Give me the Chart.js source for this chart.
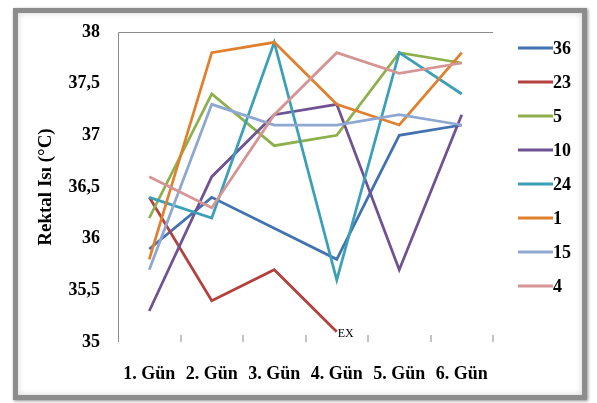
<!DOCTYPE html>
<html>
<head>
<meta charset="utf-8">
<script src="https://cdn.jsdelivr.net/npm/chart.js@4/dist/chart.umd.min.js"></script>
<style>
  html, body { margin: 0; padding: 0; background: #fff; }
  body { width: 597px; height: 403px; position: relative; overflow: hidden; }
  .frame {
    position: absolute; left: 13px; top: 8px; width: 564px; height: 382px;
    border: 5px solid #8c8c8c;
    box-shadow: 1px 1px 3px rgba(0,0,0,0.45), inset 0 0 6px rgba(0,0,0,0.18);
    background: #fff;
  }
  canvas { position: absolute; left: 0; top: 0; }
</style>
</head>
<body>
<div class="frame"></div>
<canvas id="chart" width="597" height="403"></canvas>
<script>
// Rectal temperature per animal over six days.
const days = ["1. Gün", "2. Gün", "3. Gün", "4. Gün", "5. Gün", "6. Gün"];
const animals = ["36", "23", "5", "10", "24", "1", "15", "4"];

const temp36 = [35.9, 36.4, 36.1, 35.8, 37.0, 37.1];
const temp23 = [36.4, 35.4, 35.7, 35.1, null, null]; // exitus after day 4
const temp5  = [36.2, 37.4, 36.9, 37.0, 37.8, 37.7];
const temp10 = [35.3, 36.6, 37.2, 37.3, 35.7, 37.2];
const temp24 = [36.4, 36.2, 37.9, 35.6, 37.8, 37.4];
const temp1  = [35.8, 37.8, 37.9, 37.3, 37.1, 37.8];
const temp15 = [35.7, 37.3, 37.1, 37.1, 37.2, 37.1];
const temp4  = [36.6, 36.3, 37.2, 37.8, 37.6, 37.7];

const yTicks = [35, 35.5, 36, 36.5, 37, 37.5, 38];

const series = [temp36, temp23, temp5, temp10, temp24, temp1, temp15, temp4];
const colors = ["#4372b0", "#b3413e", "#8db04c", "#6f5292", "#3a9fb7", "#e0802f", "#8fa8d1", "#d49594"];

const SERIF = "'Liberation Serif', 'Times New Roman', serif";
const AXIS_GRAY = "#8a8a8a";

// plot frame (left + top line) and the short category ticks standing on the bottom edge
const framePlugin = {
  id: "frame",
  beforeDatasetsDraw(chart) {
    const { ctx, chartArea: a, scales } = chart;
    ctx.save();
    ctx.strokeStyle = AXIS_GRAY;
    ctx.lineWidth = 1;
    ctx.beginPath();
    ctx.moveTo(a.left + 0.5, a.bottom);
    ctx.lineTo(a.left + 0.5, a.top + 0.5);
    ctx.lineTo(a.right, a.top + 0.5);
    ctx.stroke();
    ctx.strokeStyle = "#b0b0b0";
    ctx.lineWidth = 1.5;
    for (let i = 0; i < days.length; i++) {
      const x = Math.round(scales.x.getPixelForValue(i + 0.5));
      ctx.beginPath();
      ctx.moveTo(x, a.bottom);
      ctx.lineTo(x, a.bottom - 7);
      ctx.stroke();
    }
    ctx.restore();
  },
};

// "EX" note next to the last reading of animal 23
const exPlugin = {
  id: "exLabel",
  afterDatasetsDraw(chart) {
    const pt = chart.getDatasetMeta(1).data[3];
    if (!pt) return;
    const ctx = chart.ctx;
    ctx.save();
    ctx.font = "12px " + SERIF;
    ctx.fillStyle = "#000";
    ctx.textBaseline = "middle";
    ctx.fillText("EX", pt.x + 1, pt.y + 2);
    ctx.restore();
  },
};

// legend column on the right, Excel style: short line + bold label
const legendPlugin = {
  id: "sideLegend",
  afterDraw(chart) {
    const ctx = chart.ctx;
    ctx.save();
    ctx.font = "bold 18px " + SERIF;
    ctx.textBaseline = "middle";
    ctx.fillStyle = "#000";
    animals.forEach((name, i) => {
      const y = 48 + i * 34;
      ctx.strokeStyle = colors[i];
      ctx.lineWidth = 3;
      ctx.beginPath();
      ctx.moveTo(518, y);
      ctx.lineTo(553, y);
      ctx.stroke();
      ctx.fillText(name, 553, y + 1);
    });
    ctx.restore();
  },
};

new Chart(document.getElementById("chart"), {
  type: "line",
  data: {
    labels: days,
    datasets: series.map((vals, i) => ({
      label: animals[i],
      data: vals,
      borderColor: colors[i],
      backgroundColor: colors[i],
      borderWidth: 2.75,
      pointRadius: 0,
      tension: 0,
      spanGaps: false,
      order: series.length - i, // later series on top
    })),
  },
  options: {
    responsive: false,
    animation: false,
    events: [],
    layout: { padding: { left: 0, right: 104, top: 32, bottom: 0 } },
    plugins: { legend: { display: false }, tooltip: { enabled: false } },
    scales: {
      x: {
        offset: true,
        grid: { display: false },
        border: { display: false },
        ticks: {
          color: "#000",
          padding: 14,
          maxRotation: 0,
          font: { family: SERIF, size: 18, weight: "bold" },
        },
        afterFit: (s) => { s.height = 61; },
      },
      y: {
        min: 35,
        max: 38,
        afterBuildTicks: (s) => { s.ticks = yTicks.map((v) => ({ value: v })); },
        grid: { display: false },
        border: { display: false },
        ticks: {
          color: "#000",
          padding: 10,
          font: { family: SERIF, size: 18, weight: "bold" },
          callback: (v) => String(v).replace(".", ","),
        },
        title: {
          display: true,
          text: "Rektal Isı (°C)",
          color: "#000",
          padding: { top: 35, bottom: 0 },
          font: { family: SERIF, size: 19, weight: "bold" },
        },
        afterFit: (s) => { s.width = 118; },
      },
    },
  },
  plugins: [framePlugin, exPlugin, legendPlugin],
});
</script>
</body>
</html>
